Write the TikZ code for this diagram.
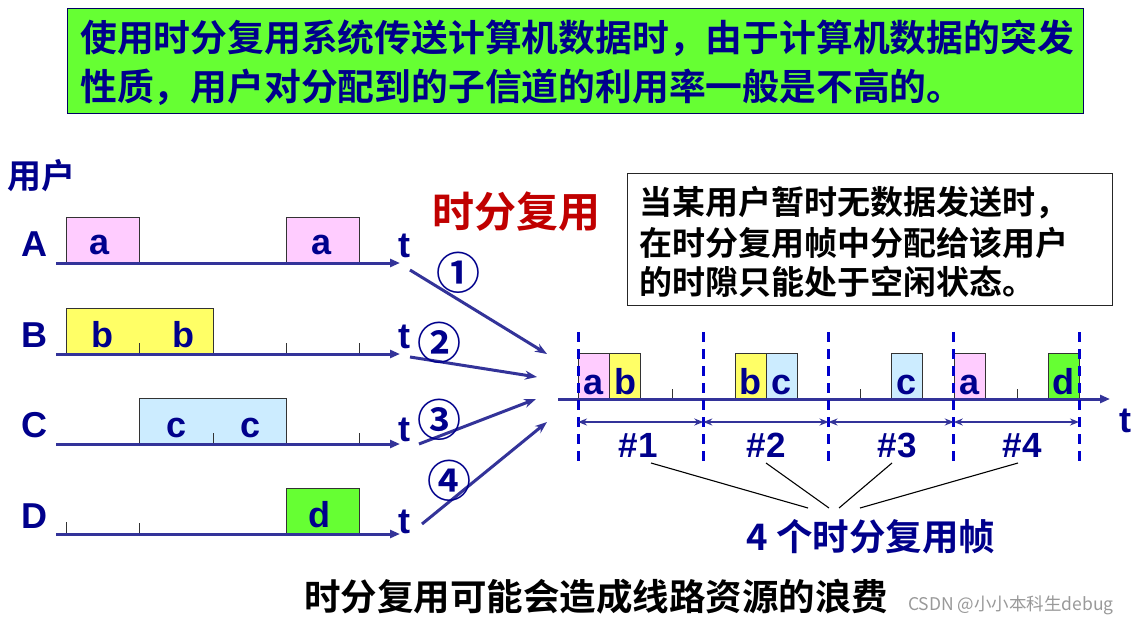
\documentclass[tikz,border=0pt]{standalone}
\usepackage{fontspec}
\setmainfont{Liberation Sans}
\newfontfamily\cjk[BoldFont={Noto Sans CJK SC Bold}]{Noto Sans CJK SC}
\usetikzlibrary{arrows.meta}
\definecolor{navy}{RGB}{0,0,140}
\definecolor{axisc}{RGB}{51,51,153}
\definecolor{dashc}{RGB}{0,0,204}
\definecolor{topgreen}{RGB}{102,255,51}
\definecolor{pinkc}{RGB}{255,204,255}
\definecolor{yelc}{RGB}{255,255,102}
\definecolor{bluec}{RGB}{204,236,255}
\definecolor{redc}{RGB}{192,0,0}
\newcommand{\fsz}[1]{\fontsize{#1}{#1}\selectfont}
\tikzset{
  axisline/.style={draw=axisc, line width=3pt, -{Triangle[length=10pt,width=8pt]}},
  slotbox/.style={draw=black!80, line width=1pt, inner sep=0pt, anchor=south west, minimum height=45pt},
  tickmark/.style={draw=black!80, line width=1pt},
  latin/.style={font=\fsz{36}\bfseries, text=navy, inner sep=0pt, anchor=base},
  cjktext/.style={font=\cjk\bfseries, text=navy, inner sep=0pt},
  feed/.style={draw=axisc, line width=3pt, -{Stealth[length=12pt,width=9pt]}},
  framedash/.style={draw=dashc, line width=3pt, dash pattern=on 10pt off 7pt},
  framespan/.style={draw=axisc, line width=2.5pt, {Stealth[length=9pt,width=7pt]}-{Stealth[length=9pt,width=7pt]}},
  pointer/.style={draw=black, line width=1.1pt}
}
\begin{document}
\begin{tikzpicture}[x=1pt,y=-1pt]
\useasboundingbox[fill=white] (0,0) rectangle (1140,626);

% top statement
\node[draw=navy!70!black, line width=1.2pt, fill=topgreen, anchor=north west, minimum width=1016pt, minimum height=105pt, inner sep=0pt] (topbox) at (67,8) {};
\node[cjktext, font=\cjk\bfseries\fsz{36.8}, anchor=west] (top1) at (80,38) {使用时分复用系统传送计算机数据时，由于计算机数据的突发};
\node[cjktext, font=\cjk\bfseries\fsz{36.8}, anchor=west] (top2) at (80,87) {性质，用户对分配到的子信道的利用率一般是不高的。};

% users label
\node[cjktext, font=\cjk\bfseries\fsz{34}, anchor=west] (users) at (7,176) {用户};

% left axes
\foreach \n/\y in {A/263,B/354,C/444,D/534}{
  \coordinate (\n0) at (56,\y);
  \coordinate (\n1) at (400,\y);
}
% boxes
\node[slotbox, fill=pinkc, minimum width=73pt] (Aa1) at (66,263) {};
\node[slotbox, fill=pinkc, minimum width=73pt] (Aa2) at (286,263) {};
\node[slotbox, fill=yelc, minimum width=147pt] (Bb) at (66,354) {};
\node[slotbox, fill=bluec, minimum width=147pt] (Cc) at (139,444) {};
\node[slotbox, fill=topgreen, minimum width=73pt] (Dd) at (286,534) {};
% ticks
\draw[tickmark] (139,343) -- (139,354);
\draw[tickmark] (286,343) -- (286,354);
\draw[tickmark] (359,343) -- (359,354);
\draw[tickmark] (213,433) -- (213,444);
\draw[tickmark] (359,433) -- (359,444);
\draw[tickmark] (66,522) -- (66,534);
\draw[tickmark] (139,523) -- (139,534);
\foreach \n in {A,B,C,D}{ \draw[axisline] (\n0) -- (\n1); }
% letters in boxes
\node[latin] (ta1) at (100,254) {a};
\node[latin] (ta2) at (322,254) {a};
\node[latin] (tb1) at (102,347) {b};
\node[latin] (tb2) at (183,347) {b};
\node[latin] (tc1) at (177,437) {c};
\node[latin] (tc2) at (251,437) {c};
\node[latin] (td1) at (319,527) {d};
% row labels
\node[latin] (lA) at (34,256) {A};
\node[latin] (lB) at (34,347) {B};
\node[latin] (lC) at (34,437) {C};
\node[latin] (lD) at (34,528) {D};
% t labels
\node[latin] (tA) at (404,257) {t};
\node[latin] (tB) at (404,348) {t};
\node[latin] (tC) at (404,441) {t};
\node[latin] (tD) at (404,533) {t};

% title
\node[cjktext, font=\cjk\bfseries\fsz{42}, text=redc] (tdm) at (516,212) {时分复用};

% note box
\node[draw=black!85, line width=1.2pt, fill=white, anchor=north west, minimum width=485pt, minimum height=132pt, inner sep=0pt] (note) at (627,173) {};
\node[cjktext, font=\cjk\bfseries\fsz{33}, text=black, anchor=west] (n1) at (639,203) {当某用户暂时无数据发送时，};
\node[cjktext, font=\cjk\bfseries\fsz{33}, text=black, anchor=west] (n2) at (639,243) {在时分复用帧中分配给该用户};
\node[cjktext, font=\cjk\bfseries\fsz{33}, text=black, anchor=west] (n3) at (639,282) {的时隙只能处于空闲状态。};

% feed arrows
\coordinate (s1) at (410,270); \coordinate (e1) at (547,354);
\coordinate (s2) at (410,357); \coordinate (e2) at (537,377);
\coordinate (s3) at (419,444); \coordinate (e3) at (536,399);
\coordinate (s4) at (422,524); \coordinate (e4) at (547,422);
\draw[feed] (s1) -- (e1);
\draw[feed] (s2) -- (e2);
\draw[feed] (s3) -- (e3);
\draw[feed] (s4) -- (e4);
\node[cjktext, font=\cjk\bfseries\fsz{44}] (c1) at (458,273) {①};
\node[cjktext, font=\cjk\bfseries\fsz{44}] (c2) at (439,343) {②};
\node[cjktext, font=\cjk\bfseries\fsz{44}] (c3) at (439,420) {③};
\node[cjktext, font=\cjk\bfseries\fsz{44}] (c4) at (449,481) {④};

% right multiplexed line
\coordinate (R0) at (558,399);
\coordinate (R1) at (1110,399);
\node[slotbox, fill=pinkc, minimum width=31pt] (r1a) at (578,399) {};
\node[slotbox, fill=yelc, minimum width=31pt] (r1b) at (609.3,399) {};
\node[slotbox, fill=yelc, minimum width=31pt] (r2b) at (734.5,399) {};
\node[slotbox, fill=bluec, minimum width=31pt] (r2c) at (765.8,399) {};
\node[slotbox, fill=bluec, minimum width=31pt] (r3c) at (891,399) {};
\node[slotbox, fill=pinkc, minimum width=31pt] (r4a) at (953.5,399) {};
\node[slotbox, fill=topgreen, minimum width=31pt] (r4d) at (1047.5,399) {};
\draw[tickmark] (672,389) -- (672,399);
\draw[tickmark] (860,389) -- (860,399);
\draw[tickmark] (1017,389) -- (1017,399);
\draw[axisline] (R0) -- (R1);
\node[latin] (ra1) at (593.5,394) {a};
\node[latin] (rb1) at (625,394) {b};
\node[latin] (rb2) at (750,394) {b};
\node[latin] (rc2) at (781.5,394) {c};
\node[latin] (rc3) at (906.5,394) {c};
\node[latin] (ra4) at (969,394) {a};
\node[latin] (rd4) at (1063,394) {d};
\node[latin] (tR) at (1125,432) {t};

% frame boundaries
\foreach \i/\x in {0/578,1/703.3,2/828.5,3/953.8,4/1079}{
  \coordinate (dt\i) at (\x,332);
  \coordinate (db\i) at (\x,462);
  \coordinate (fm\i) at (\x,422);
  \draw[framedash] (dt\i) -- (db\i);
}
\draw[framespan] (fm0) -- (fm1);
\draw[framespan] (fm1) -- (fm2);
\draw[framespan] (fm2) -- (fm3);
\draw[framespan] (fm3) -- (fm4);
\node[latin, font=\fsz{35}\bfseries] (f1) at (638,457) {\#1};
\node[latin, font=\fsz{35}\bfseries] (f2) at (766,457) {\#2};
\node[latin, font=\fsz{35}\bfseries] (f3) at (897,457) {\#3};
\node[latin, font=\fsz{35}\bfseries] (f4) at (1022,457) {\#4};

% pointers to caption
\node[cjktext, font=\cjk\bfseries\fsz{36.5}] (cap) at (871,537) {4 个时分复用帧};
\coordinate (p1s) at (651,463); \coordinate (p1e) at (808,508);
\coordinate (p2s) at (766,463); \coordinate (p2e) at (829,508);
\coordinate (p3s) at (892,463); \coordinate (p3e) at (839,508);
\coordinate (p4s) at (1018,463); \coordinate (p4e) at (860,508);
\draw[pointer] (p1s) -- (p1e);
\draw[pointer] (p2s) -- (p2e);
\draw[pointer] (p3s) -- (p3e);
\draw[pointer] (p4s) -- (p4e);

% bottom caption
\node[cjktext, font=\cjk\bfseries\fsz{36.5}, text=black] (waste) at (596,597) {时分复用可能会造成线路资源的浪费};
\node[cjktext, font=\cjk\fsz{17.5}, text=black!40] (wm) at (1011,605) {CSDN @小小本科生debug};
\end{tikzpicture}
\end{document}
